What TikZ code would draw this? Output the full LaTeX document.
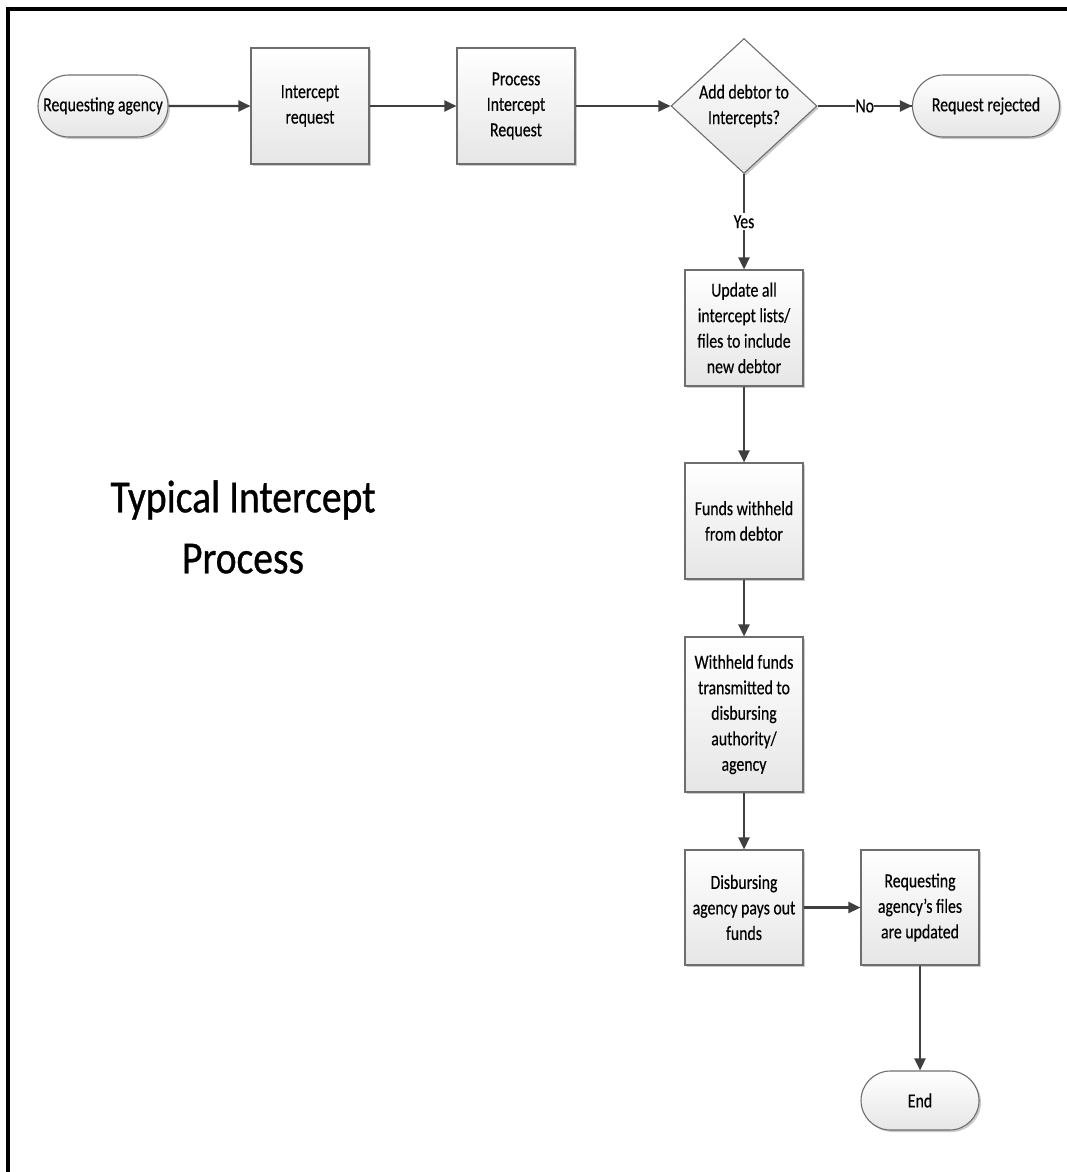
\documentclass[tikz,border=0pt]{standalone}
\usepackage{fontspec}
\setmainfont{Carlito}
\newfontfamily\boxfont[FakeStretch=0.79,FakeBold=0.3]{Carlito}
\newfontfamily\headfont[FakeStretch=0.86,FakeBold=0.8]{Carlito}
\usetikzlibrary{shapes.geometric,shapes.misc,shadows,arrows.meta}
\definecolor{edge}{HTML}{6E6E6E}
\definecolor{flow}{HTML}{3F3F3F}
\definecolor{fillbot}{HTML}{E6E6E6}
\tikzset{
  every node/.style={font=\boxfont\fontsize{20}{25.5}\selectfont, align=center, text=black},
  base/.style={draw=edge, line width=1.1pt, top color=white, bottom color=fillbot,
    drop shadow={shadow xshift=2pt, shadow yshift=-2pt, fill=black!35, opacity=0.6}},
  procbox/.style={base, rectangle, minimum width=118pt, minimum height=116pt, inner sep=2pt},
  terminal/.style={base, rounded rectangle, minimum height=62pt, inner sep=3pt},
  decision/.style={base, diamond, minimum width=146pt, minimum height=135pt, inner sep=0pt, aspect=1.08},
  flowline/.style={draw=flow, line width=2.4pt, -{Triangle[length=12pt,width=11pt]}},
  plainline/.style={draw=flow, line width=2.4pt},
  tag/.style={fill=white, inner sep=0pt},
}
\begin{document}
\begin{tikzpicture}[x=1pt,y=-1pt]
\useasboundingbox (0,0) rectangle (1067,1172);
% outer frame
\draw[line width=4pt, line cap=rect] (1067,9) -- (8,9) -- (8,1172);

% top row
\node[terminal, minimum width=136pt] (req) at (103,106) {Requesting agency};
\node[procbox] (irq) at (310,106) {Intercept\\request};
\node[procbox] (pir) at (516,106) {Process\\Intercept\\Request};
\node[decision] (dec) at (744,106) {Add debtor to\\Intercepts?};
\node[terminal, minimum width=153pt] (rej) at (986,106) {Request rejected};

% vertical chain
\node[procbox] (upd) at (744,328) {Update all\\intercept lists/\\files to include\\new debtor};
\node[procbox] (fwd) at (744,521) {Funds withheld\\from debtor};
\node[procbox, minimum height=155pt] (wft) at (744,714.5) {Withheld funds\\transmitted to\\disbursing\\authority/\\agency};
\node[procbox, minimum height=115pt] (dis) at (744,907.5) {Disbursing\\agency pays out\\funds};
\node[procbox, minimum height=115pt] (raf) at (920,907.5) {Requesting\\agency’s files\\are updated};
\node[terminal, minimum width=124pt, minimum height=59pt] (end) at (920,1100.5) {End};

% title
\node[font=\headfont\fontsize{46}{61}\selectfont] (ttl) at (243,527) {Typical Intercept\\Process};

% connectors
\draw[flowline] (req) -- (irq);
\draw[flowline] (irq) -- (pir);
\draw[flowline] (pir) -- (dec);
\draw[plainline] (dec) -- node[tag] (no) {No} (rej);
\draw[flowline] (no) -- (rej);
\draw[flowline] (dec) -- node[tag, inner sep=2pt] (yes) {Yes} (upd);
\draw[flowline] (upd) -- (fwd);
\draw[flowline] (fwd) -- (wft);
\draw[flowline] (wft) -- (dis);
\draw[flowline] (dis) -- (raf);
\draw[flowline] (raf) -- (end);
\end{tikzpicture}
\end{document}
